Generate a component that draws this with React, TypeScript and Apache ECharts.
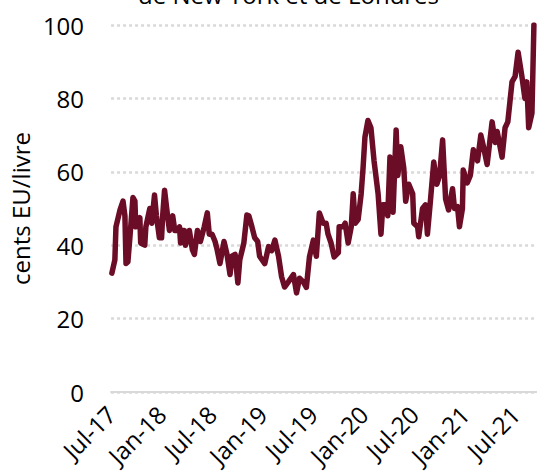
import React, { useEffect, useRef } from "react";
import * as echarts from "echarts";

const titleLine = "de New York et de Londres";
const yAxisName = "cents EU/livre";
const tickLabels = ["Jul-17", "Jan-18", "Jul-18", "Jan-19", "Jul-19", "Jan-20", "Jul-20", "Jan-21", "Jul-21"];
const yTicks = [0, 20, 40, 60, 80, 100];

const dates = [
  "2017-07-04", "2017-07-15", "2017-07-19", "2017-08-03", "2017-08-14", "2017-08-21", "2017-08-25", "2017-09-01",
  "2017-09-08", "2017-09-19", "2017-09-26", "2017-09-29", "2017-10-14", "2017-10-17", "2017-11-01", "2017-11-05",
  "2017-11-19", "2017-11-26", "2017-12-06", "2017-12-13", "2017-12-24", "2018-01-01", "2018-01-05", "2018-01-12",
  "2018-01-23", "2018-01-30", "2018-02-10", "2018-02-17", "2018-02-27", "2018-03-05", "2018-03-09", "2018-03-16",
  "2018-03-23", "2018-03-27", "2018-04-10", "2018-04-21", "2018-04-28", "2018-05-09", "2018-05-20", "2018-06-03",
  "2018-06-14", "2018-06-21", "2018-07-01", "2018-07-12", "2018-07-19", "2018-07-30", "2018-08-14", "2018-08-25",
  "2018-09-05", "2018-09-12", "2018-09-23", "2018-10-03", "2018-10-10", "2018-10-25", "2018-11-05", "2018-11-12",
  "2018-11-23", "2018-12-03", "2018-12-14", "2018-12-21", "2019-01-09", "2019-01-23", "2019-02-03", "2019-02-14",
  "2019-02-26", "2019-03-09", "2019-03-20", "2019-04-03", "2019-04-21", "2019-05-02", "2019-05-13", "2019-05-27",
  "2019-06-07", "2019-06-18", "2019-07-02", "2019-07-13", "2019-07-24", "2019-08-07", "2019-08-18", "2019-08-25",
  "2019-09-05", "2019-09-16", "2019-10-01", "2019-10-04", "2019-10-19", "2019-10-26", "2019-11-06", "2019-11-17",
  "2019-11-24", "2019-12-01", "2019-12-12", "2019-12-23", "2019-12-30", "2020-01-06", "2020-01-17", "2020-01-28",
  "2020-02-08", "2020-02-22", "2020-03-03", "2020-03-10", "2020-03-21", "2020-03-28", "2020-04-05", "2020-04-16",
  "2020-04-27", "2020-05-03", "2020-05-14", "2020-05-25", "2020-06-01", "2020-06-12", "2020-06-26", "2020-06-30",
  "2020-07-14", "2020-07-18", "2020-08-01", "2020-08-12", "2020-08-19", "2020-08-30", "2020-09-11", "2020-09-22",
  "2020-10-02", "2020-10-13", "2020-10-24", "2020-11-04", "2020-11-18", "2020-11-25", "2020-12-06", "2020-12-13",
  "2020-12-24", "2020-12-27", "2021-01-11", "2021-01-22", "2021-02-02", "2021-02-16", "2021-02-27", "2021-03-08",
  "2021-03-22", "2021-04-09", "2021-04-20", "2021-04-27", "2021-05-15", "2021-05-26", "2021-06-05", "2021-06-20",
  "2021-07-01", "2021-07-12", "2021-07-26", "2021-08-06", "2021-08-13", "2021-08-20", "2021-09-01", "2021-09-08",
];

const prices = [
  32.4, 36, 45, 49.6, 52, 48, 35, 35.5,
  42, 53, 52, 45, 47.5, 40.6, 40, 45,
  50, 46, 53.7, 48, 42, 42, 48, 55,
  48, 44, 48, 44, 44, 45, 40.6, 44,
  44, 40, 44, 38.7, 37.5, 44, 41, 45,
  48.8, 43, 43, 41, 39, 35, 41, 37.5,
  32, 37, 37.5, 29.7, 36, 40.6, 48.2, 48,
  45, 42, 41, 37, 35, 39.6, 38.5, 41.4,
  37, 31.4, 28.6, 30, 32, 27, 31, 30,
  28.5, 36.8, 41.4, 37, 48.8, 46, 46, 43,
  40.6, 36.8, 38, 45, 45, 46, 40.6, 45,
  54, 46, 47, 54, 61, 69.5, 74, 72,
  63, 54, 43, 51, 51, 48, 64, 49,
  71.4, 59, 66.8, 61, 52, 56.6, 54, 46,
  45, 42.3, 50, 51, 43, 52, 62.7, 56.6,
  59, 68.7, 52.6, 49.6, 55.4, 50, 50.5, 45,
  50, 60.5, 57, 59, 66, 63, 70, 67,
  62, 73.6, 68, 71, 64, 72, 73.6, 84.5,
  86, 92.6, 86, 80, 84.5, 72, 76, 100,
];

function monthOffset(s: string): number {
  const [y, m, d] = s.split("-").map(Number);
  const dim = new Date(y, m, 0).getDate();
  return (y - 2017) * 12 + (m - 7) + (d - 1) / dim;
}

const FONT = "'Open Sans', sans-serif";

export default function App() {
  const ref = useRef<HTMLDivElement>(null);
  useEffect(() => {
    if (!ref.current) return;
    const chart = echarts.init(ref.current, undefined, { renderer: "svg" });
    const data = dates.map((d, i) => [monthOffset(d), prices[i]]);
    chart.setOption({
      animation: false,
      backgroundColor: "#ffffff",
      grid: { left: 108, right: 0, top: 25, bottom: 82, containLabel: false },
      graphic: [
        {
          type: "text",
          left: 138,
          top: -18,
          style: {
            text: titleLine,
            font: `24px ${FONT}`,
            fill: "#000000",
          },
        },
      ],
      xAxis: {
        type: "value",
        min: 0,
        max: 50.6,
        interval: 6,
        axisLine: { show: true, lineStyle: { color: "#d9d9d9", width: 2 } },
        axisTick: { show: false },
        splitLine: { show: false },
        axisLabel: {
          rotate: 45,
          margin: 18,
          fontFamily: FONT,
          fontSize: 24,
          color: "#000000",
          showMaxLabel: false,
          formatter: (v: number) => {
            const k = v / 6;
            if (Math.abs(k - Math.round(k)) > 1e-6) return "";
            return tickLabels[Math.round(k)] ?? "";
          },
        },
      },
      yAxis: {
        type: "value",
        min: yTicks[0],
        max: yTicks[yTicks.length - 1],
        interval: 20,
        name: yAxisName,
        nameLocation: "middle",
        nameGap: 74,
        nameTextStyle: { fontFamily: FONT, fontSize: 24, color: "#000000" },
        axisLine: { show: false },
        axisTick: { show: false },
        axisLabel: { margin: 27, fontFamily: FONT, fontSize: 24, color: "#000000" },
        splitLine: { show: true, lineStyle: { color: "#d9d9d9", width: 2.5, type: [3, 3] } },
      },
      series: [
        {
          type: "line",
          data,
          showSymbol: false,
          symbol: "none",
          lineStyle: { color: "#6b0d26", width: 5.5, join: "round", cap: "round" },
          clip: true,
        },
      ],
    });
    return () => chart.dispose();
  }, []);
  return (
    <div
      ref={ref}
      style={{ position: "fixed", left: 0, top: 0, width: 537, height: 474 }}
    />
  );
}
